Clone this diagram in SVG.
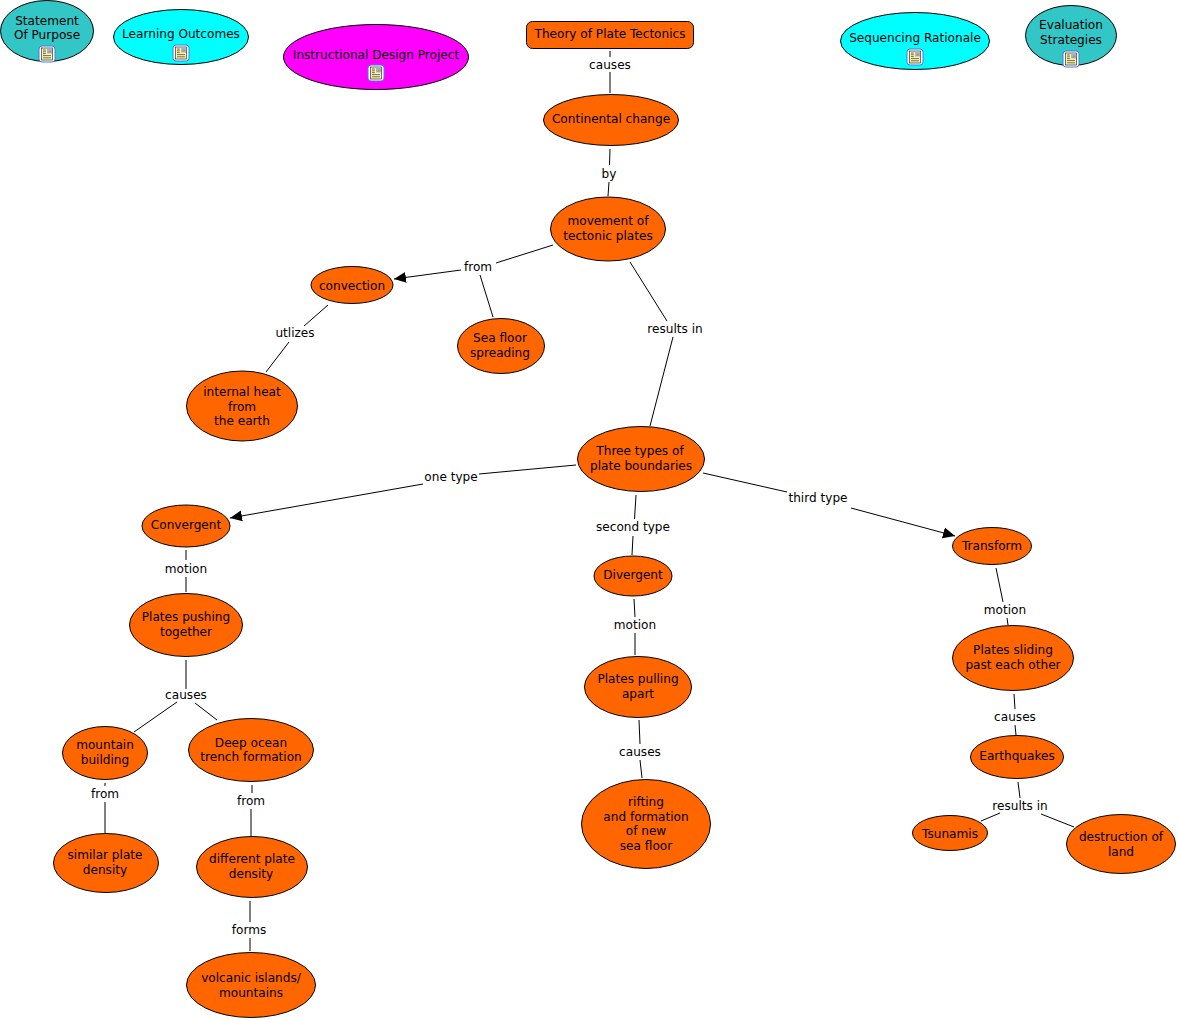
<svg xmlns="http://www.w3.org/2000/svg" xmlns:xlink="http://www.w3.org/1999/xlink" width="1178" height="1019" viewBox="0 0 1178 1019">
<style>
text{font-family:"DejaVu Sans",Verdana,sans-serif;font-size:12.1px;text-anchor:middle;fill:#000}
.n ellipse,.n rect{stroke:#000;stroke-width:1}
.o ellipse,.o rect{fill:#f60}
.t ellipse{fill:#33c6c6}
.c ellipse{fill:#0ff}
.m ellipse{fill:#f0f}
#connectors line{stroke:#000;stroke-width:1;fill:none}
.a{marker-end:url(#arrow)}
</style>
<defs>
<marker id="arrow" markerUnits="userSpaceOnUse" markerWidth="13" markerHeight="12" refX="12" refY="6" orient="auto"><path d="M0 .5L12 6L0 11.500Z" fill="#000"/></marker>
<g id="doc"><rect x="-8" y="-8" width="16" height="16" rx="3" fill="#fff" stroke="#4a78e0" stroke-width="1"/><rect x="-5.500" y="-6" width="11" height="12" fill="#fbf3a8" stroke="#333" stroke-width=".7"/><rect x="0" y="-5.500" width="5" height="5" fill="#9fb6d0" stroke="none"/><path d="M1 -1.500L3-4L4.500-1.500Z" fill="#c88a6a"/><path d="M-4-4H-1.200M-4-2.200H-1.200M-4-.4H-1.200M-4 1.600H4M-4 3.800H4" stroke="#333" stroke-width=".7" fill="none"/></g>
</defs>
<g id="connectors">
<line x1="610" y1="51" x2="610" y2="57"/><line x1="610" y1="72" x2="610" y2="93"/>
<line x1="610" y1="149" x2="609.500" y2="165"/><line x1="609" y1="182" x2="608" y2="196"/>
<line x1="553" y1="245" x2="496" y2="263"/><line class="a" x1="461" y1="270" x2="394" y2="279"/><line x1="480" y1="275" x2="493" y2="317"/>
<line x1="328" y1="305" x2="304" y2="326"/><line x1="289" y1="342" x2="266" y2="372"/>
<line x1="630" y1="262" x2="667" y2="321"/><line x1="673" y1="337" x2="650" y2="426"/>
<line x1="576" y1="465" x2="479" y2="474"/><line class="a" x1="423" y1="484" x2="230" y2="518"/>
<line x1="636" y1="495" x2="634.500" y2="519"/><line x1="633" y1="536" x2="632" y2="555"/>
<line x1="703" y1="473" x2="787" y2="492"/><line class="a" x1="851" y1="508" x2="955" y2="536"/>
<line x1="186" y1="550" x2="186" y2="560"/><line x1="186" y1="577" x2="186" y2="592"/>
<line x1="186" y1="660" x2="186" y2="689"/><line x1="177" y1="702" x2="134" y2="732"/><line x1="195" y1="703" x2="217" y2="720"/>
<line x1="105" y1="783" x2="105" y2="786"/><line x1="105" y1="802" x2="105" y2="833"/>
<line x1="252" y1="785" x2="252" y2="793"/><line x1="251" y1="809" x2="251" y2="836"/>
<line x1="250" y1="901" x2="250" y2="922"/><line x1="250" y1="938" x2="250" y2="951"/>
<line x1="634" y1="599" x2="635" y2="617"/><line x1="635" y1="633" x2="635" y2="655"/>
<line x1="639" y1="720" x2="640" y2="744"/><line x1="640" y1="760" x2="642" y2="778"/>
<line x1="996" y1="568" x2="1003" y2="602"/><line x1="1007" y1="618" x2="1008" y2="625"/>
<line x1="1014" y1="694" x2="1015" y2="709"/><line x1="1015" y1="725" x2="1016" y2="735"/>
<line x1="1018" y1="782" x2="1020" y2="798"/><line x1="1000" y1="813" x2="981" y2="821"/><line x1="1041" y1="814" x2="1074" y2="827"/>
</g>
<g id="linking-labels">
<text x="610" y="69">causes</text><text x="609" y="178">by</text><text x="478" y="271">from</text><text x="295" y="337">utlizes</text><text x="675" y="333">results in</text>
<text x="451" y="481">one type</text><text x="633" y="531">second type</text><text x="818" y="502">third type</text>
<text x="186" y="573">motion</text><text x="186" y="699">causes</text><text x="105" y="798">from</text><text x="251" y="805">from</text><text x="249" y="934">forms</text>
<text x="635" y="629">motion</text><text x="640" y="756">causes</text><text x="1005" y="614">motion</text><text x="1015" y="721">causes</text><text x="1020" y="810">results in</text>
</g>
<g id="statement" class="n t"><ellipse cx="47" cy="31" rx="46.500" ry="30.500"/><text x="47" y="25">Statement</text><text x="47" y="39">Of Purpose</text><use href="#doc" x="47" y="54"/></g>
<g id="outcomes" class="n c"><ellipse cx="181" cy="37" rx="67.500" ry="27.500"/><text x="181" y="38">Learning Outcomes</text><use href="#doc" x="181" y="53"/></g>
<g id="project" class="n m"><ellipse cx="376" cy="57" rx="92.500" ry="32.500"/><text x="376" y="58.500">Instructional Design Project</text><use href="#doc" x="376" y="73"/></g>
<g id="theory" class="n o"><rect x="526.500" y="21.500" width="167" height="27" rx="6"/><text x="610" y="38">Theory of Plate Tectonics</text></g>
<g id="rationale" class="n c"><ellipse cx="915" cy="41" rx="74.500" ry="28.500"/><text x="915" y="42">Sequencing Rationale</text><use href="#doc" x="915" y="57"/></g>
<g id="evaluation" class="n t"><ellipse cx="1071" cy="35.500" rx="45.500" ry="30"/><text x="1071" y="29">Evaluation</text><text x="1071" y="44">Strategies</text><use href="#doc" x="1071" y="59"/></g>
<g id="continental" class="n o"><ellipse cx="611" cy="120" rx="67.500" ry="25.500"/><text x="611" y="123">Continental change</text></g>
<g id="movement" class="n o"><ellipse cx="608" cy="229" rx="57.500" ry="32"/><text x="608" y="225">movement of</text><text x="608" y="240">tectonic plates</text></g>
<g id="convection" class="n o"><ellipse cx="352" cy="285" rx="41" ry="18.500"/><text x="352" y="290">convection</text></g>
<g id="seafloor" class="n o"><ellipse cx="501" cy="346" rx="43.500" ry="27.500"/><text x="500" y="342">Sea floor</text><text x="500" y="357">spreading</text></g>
<g id="heat" class="n o"><ellipse cx="242" cy="406" rx="55.500" ry="35"/><text x="242" y="396">internal heat</text><text x="242" y="411">from</text><text x="242" y="425">the earth</text></g>
<g id="boundaries" class="n o"><ellipse cx="641" cy="459" rx="63.500" ry="32.500"/><text x="640" y="455">Three types of</text><text x="641" y="470">plate boundaries</text></g>
<g id="convergent" class="n o"><ellipse cx="186" cy="526" rx="44" ry="21"/><text x="186" y="529">Convergent</text></g>
<g id="divergent" class="n o"><ellipse cx="633" cy="576" rx="39" ry="20"/><text x="633" y="579">Divergent</text></g>
<g id="transform" class="n o"><ellipse cx="992" cy="546" rx="39.500" ry="18.500"/><text x="992" y="550">Transform</text></g>
<g id="pushing" class="n o"><ellipse cx="186" cy="625" rx="56.500" ry="31.500"/><text x="186" y="621">Plates pushing</text><text x="186" y="636">together</text></g>
<g id="pulling" class="n o"><ellipse cx="638" cy="687" rx="53.500" ry="30.500"/><text x="638" y="683">Plates pulling</text><text x="638" y="698">apart</text></g>
<g id="sliding" class="n o"><ellipse cx="1013" cy="658" rx="60.500" ry="32.500"/><text x="1013" y="654">Plates sliding</text><text x="1013" y="669">past each other</text></g>
<g id="mountain" class="n o"><ellipse cx="105" cy="753" rx="42.500" ry="26.500"/><text x="105" y="749">mountain</text><text x="105" y="764">building</text></g>
<g id="trench" class="n o"><ellipse cx="251" cy="750" rx="62.500" ry="31.500"/><text x="251" y="747">Deep ocean</text><text x="251" y="761">trench formation</text></g>
<g id="rifting" class="n o"><ellipse cx="646" cy="824" rx="64.500" ry="44.500"/><text x="646" y="806">rifting</text><text x="646" y="821">and formation</text><text x="646" y="835">of new</text><text x="646" y="850">sea floor</text></g>
<g id="earthquakes" class="n o"><ellipse cx="1017" cy="757" rx="46.500" ry="21.500"/><text x="1017" y="760">Earthquakes</text></g>
<g id="similar" class="n o"><ellipse cx="106" cy="863" rx="52.500" ry="29.500"/><text x="105" y="859">similar plate</text><text x="105" y="874">density</text></g>
<g id="different" class="n o"><ellipse cx="252" cy="867" rx="55.500" ry="30.500"/><text x="252" y="863">different plate</text><text x="251" y="878">density</text></g>
<g id="volcanic" class="n o"><ellipse cx="251" cy="985" rx="64.500" ry="32.500"/><text x="251" y="982">volcanic islands/</text><text x="251" y="997">mountains</text></g>
<g id="tsunamis" class="n o"><ellipse cx="950" cy="833" rx="37.500" ry="17.500"/><text x="950" y="838">Tsunamis</text></g>
<g id="destruction" class="n o"><ellipse cx="1121" cy="844" rx="54.500" ry="29.500"/><text x="1121" y="841">destruction of</text><text x="1121" y="856">land</text></g>
</svg>
